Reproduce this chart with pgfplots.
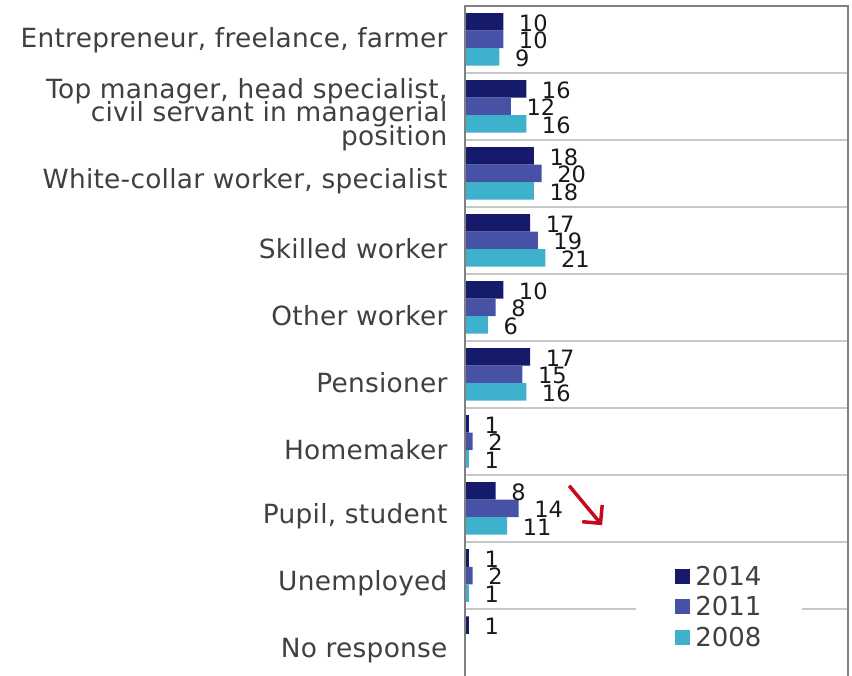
\documentclass[border=0pt]{standalone}
\usepackage{pgfplots}
\pgfplotsset{compat=1.18}
\usepackage{fontspec}
\setmainfont{DejaVu Sans}
\newfontfamily\labfont{DejaVu Sans}[LetterSpace=1]
\usetikzlibrary{arrows.meta}
\definecolor{c2014}{RGB}{21,26,106}
\definecolor{c2011}{RGB}{71,82,166}
\definecolor{c2008}{RGB}{62,177,204}
\definecolor{txt}{RGB}{64,64,64}
\definecolor{gridc}{RGB}{200,200,200}
\definecolor{axc}{RGB}{128,128,128}
\definecolor{arrowred}{RGB}{200,8,30}

\begin{document}
\begin{tikzpicture}
\begin{axis}[
  width=383pt, height=670pt, scale only axis,
  xbar, bar width=17.5pt,
  xmin=0, xmax=100, ymin=-0.5, ymax=9.5, y dir=reverse,
  axis line style={draw=none},
  xtick=\empty,
  ytick={0,...,9},
  yticklabels={
    {\raisebox{7.5pt}[\height][\depth]{Entrepreneur, freelance, farmer}},
    {Top manager, head specialist,\\civil servant in managerial\\position},
    {White-collar worker, specialist},
    {Skilled worker},
    {Other worker},
    {Pensioner},
    {Homemaker},
    {Pupil, student},
    {Unemployed},
    {No response}},
  major tick length=0pt, minor tick length=0pt,
  minor ytick={0.5,1.5,...,8.5},
  yminorgrids, minor grid style={gridc, line width=1.6pt},
  yticklabel style={align=right, font={\labfont\fontsize{26.4}{23.5}\selectfont\lineskiplimit=-30pt},
    text=txt, xshift=-14pt, yshift=-8pt},
  point meta=x,
  /pgf/number format/assume math mode=true,
  nodes near coords,
  nodes near coords style={font=\fontsize{22.5}{22.5}\selectfont, text=black!90, anchor=west,
    inner xsep=15.5pt, yshift=-1pt},
  every axis plot/.append style={draw=none},
  legend image code/.code={\fill[#1] (0pt,-7.5pt) rectangle (15pt,7.5pt);},
  legend cell align=left,
  legend style={draw=none, fill=white, at={(0.663,0.103)}, anchor=center,
    font=\fontsize{26}{26}\selectfont, text=txt, inner xsep=39pt, inner ysep=4pt,
    nodes={inner sep=1.5pt}, row sep=7pt,
    /tikz/every odd column/.style={column sep=4pt}},
  clip=false,
]
\addplot[fill=c2014, bar shift=17.5pt] coordinates {(10,0) (16,1) (18,2) (17,3) (10,4) (17,5) (1,6) (8,7) (1,8) (1,9)};
\addplot[fill=c2011, bar shift=0pt] coordinates {(10,0) (12,1) (20,2) (19,3) (8,4) (15,5) (2,6) (14,7) (2,8)};
\addplot[fill=c2008, bar shift=-17.5pt] coordinates {(9,0) (16,1) (18,2) (21,3) (6,4) (16,5) (1,6) (11,7) (1,8)};
\legend{2014, 2011, 2008}
\draw[axc, line width=2pt] (axis description cs:0,0) -- (axis description cs:0,1) -- (axis description cs:1,1) -- (axis description cs:1,0);
\draw[arrowred, line width=3.5pt, -{Straight Barb[length=13pt,width=26pt]}] (axis cs:27.2,6.66) -- (axis cs:35.8,7.25);
\coordinate (SW) at (axis description cs:0,0);
\coordinate (NE) at (axis description cs:1,1);
\end{axis}
\pgfresetboundingbox
\path[use as bounding box] ([xshift=-465pt]SW) rectangle ([xshift=4pt,yshift=6pt]NE);
\end{tikzpicture}
\end{document}
